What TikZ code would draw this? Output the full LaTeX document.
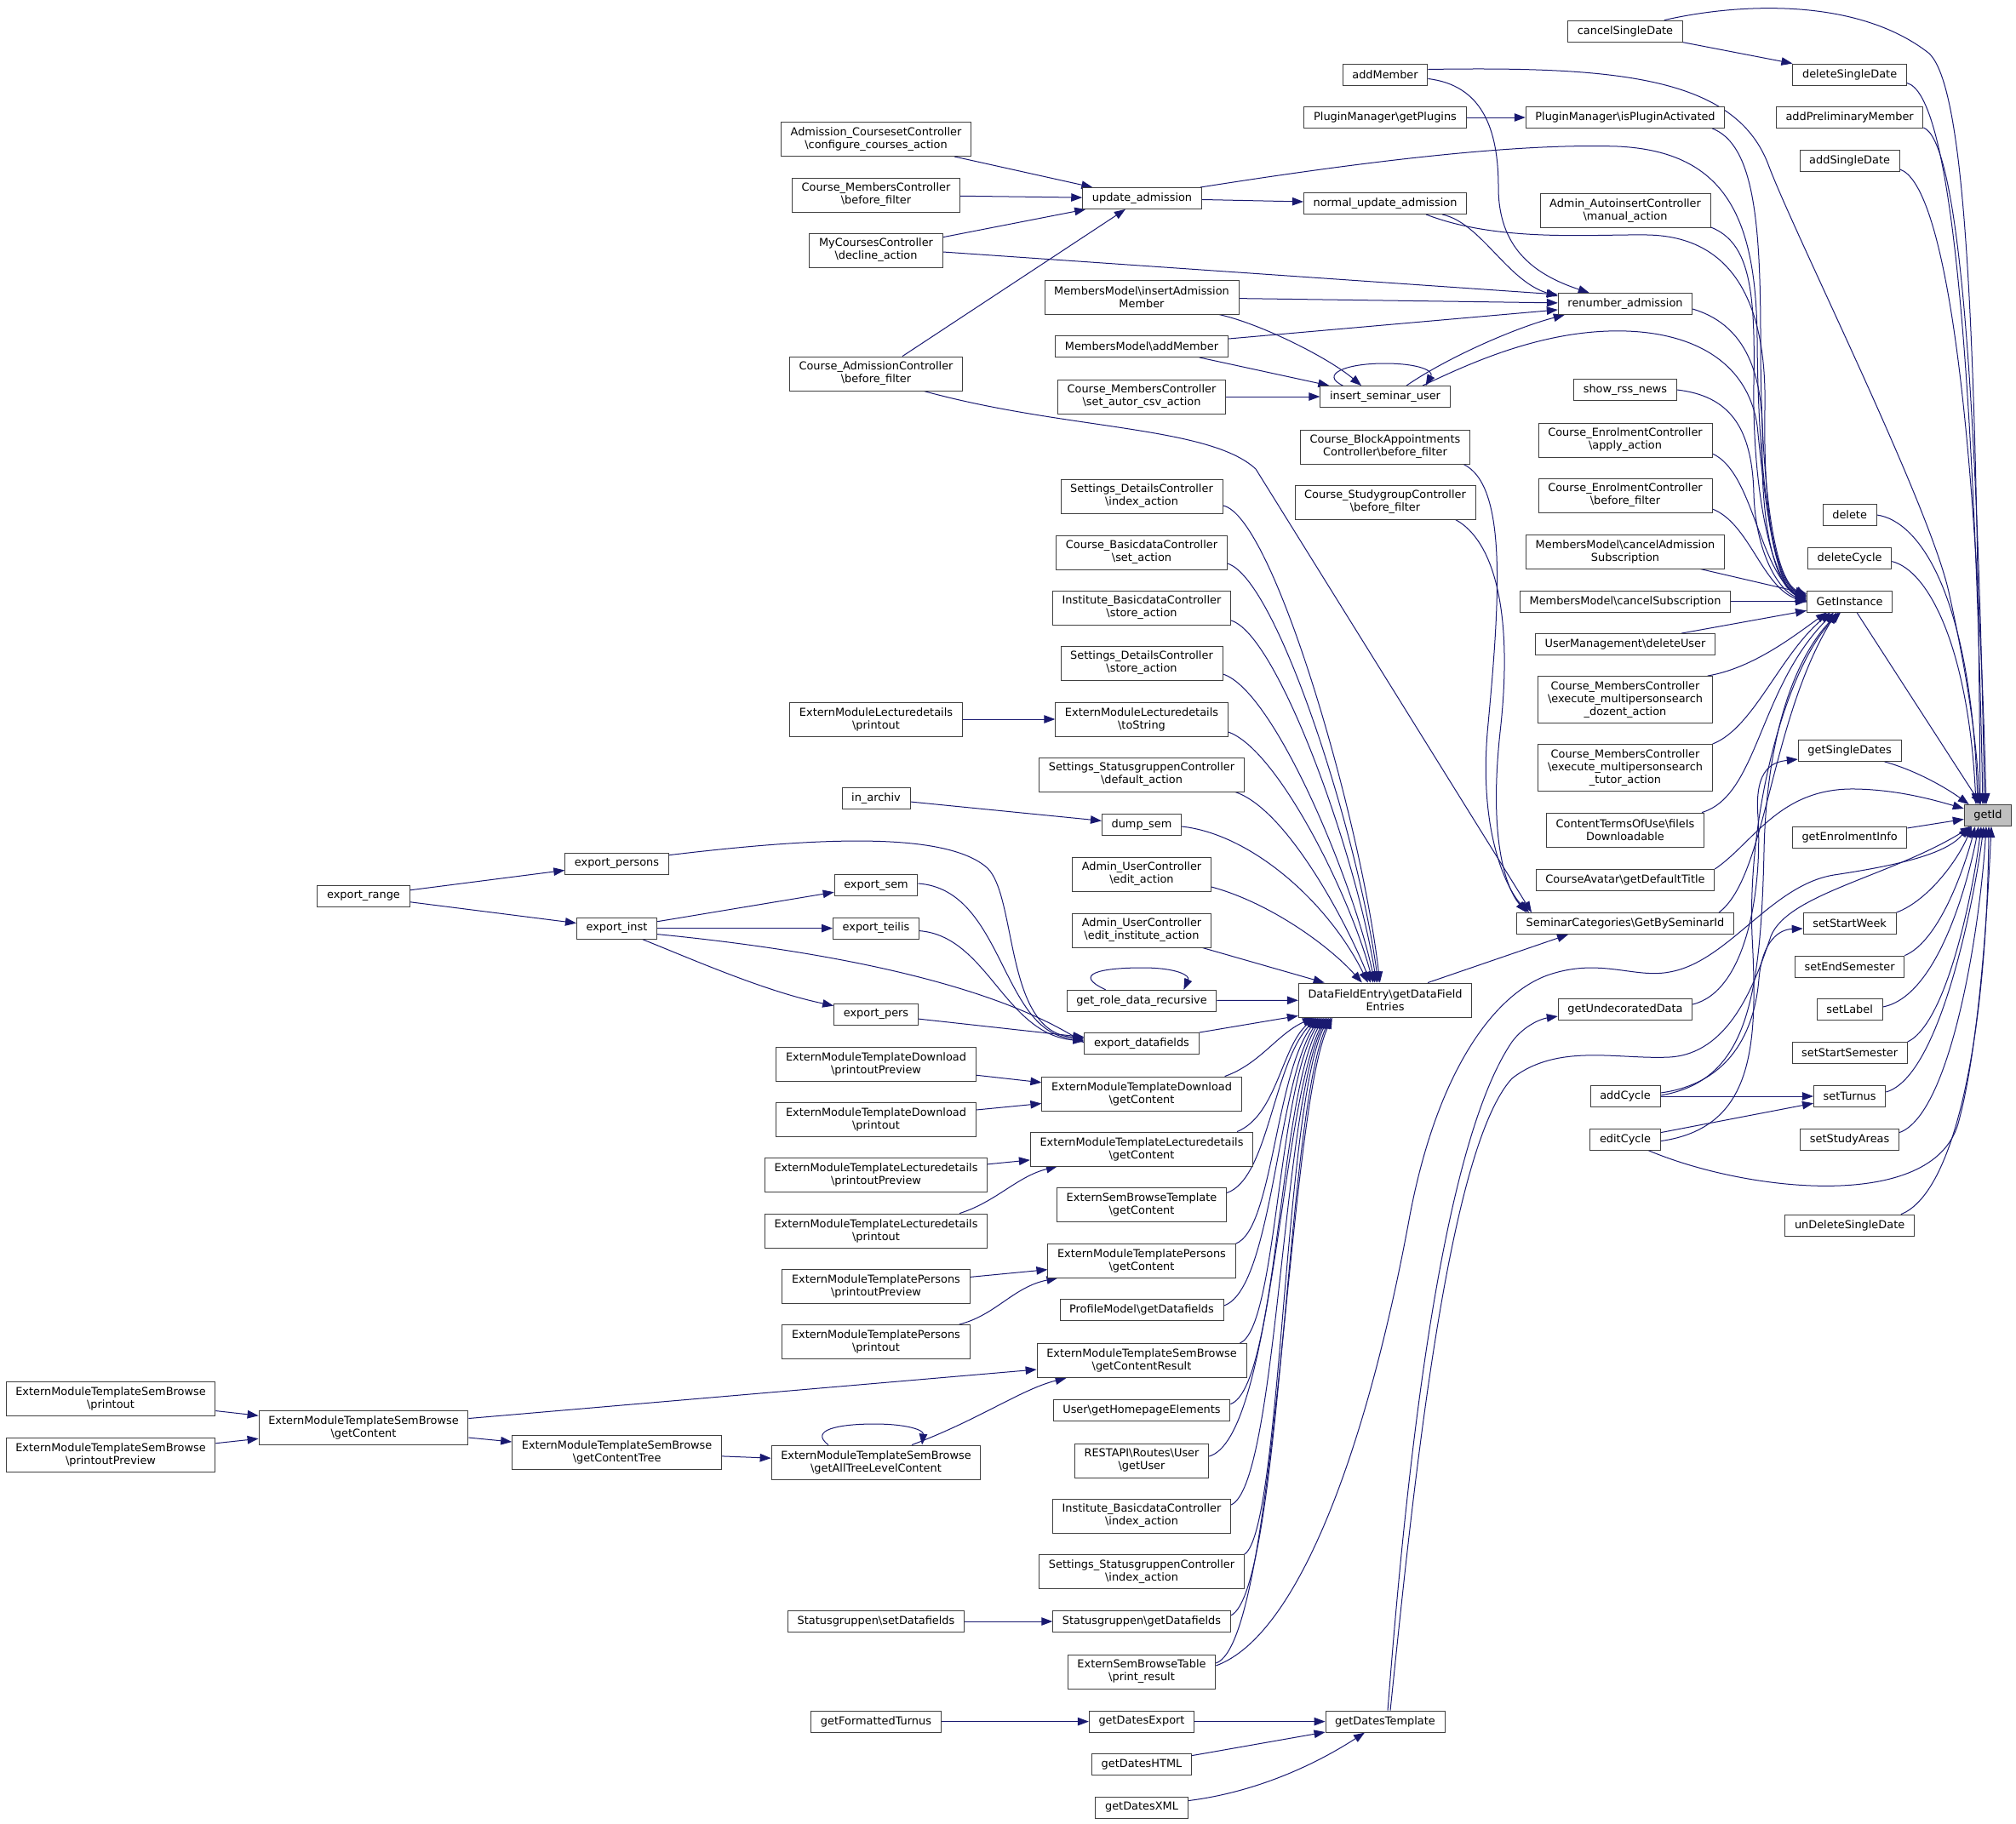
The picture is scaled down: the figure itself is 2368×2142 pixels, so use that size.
\documentclass[tikz,border=0pt]{standalone}
\usepackage{fontspec}
\newfontfamily\dejavu{DejaVu Sans}
\usetikzlibrary{arrows.meta,calc,backgrounds}
\definecolor{edgeblue}{HTML}{191970}
\definecolor{boxgrey}{HTML}{404040}
\definecolor{hitgrey}{HTML}{BFBFBF}
\newcommand{\bks}{\textbackslash}
\tikzset{
  fn/.style={draw=boxgrey, fill=white, rectangle, line width=0.9pt, font=\dejavu\fontsize{12.9}{15}\selectfont,
    inner xsep=11.2pt, inner ysep=0pt, minimum height=25pt, align=center},
  fntwo/.style={fn, minimum height=40pt},
  fnthree/.style={fn, minimum height=55pt},
  call/.style={draw=edgeblue, line width=1pt, -{Triangle[length=13pt,width=9.5pt]}},
}
\begin{document}
\begin{tikzpicture}[x=1pt,y=-1pt]
        \useasboundingbox (0,0) rectangle (2368,2142);

        \node[fn, fill=hitgrey] (getid) at (2335,958) {getId};

        \node[fn] (delsd) at (2172.6,87.5) {deleteSingleDate};
        \node[fn] (addpre) at (2172.6,138) {addPreliminaryMember};
        \node[fn] (addsd) at (2172.6,189) {addSingleDate};
        \node[fn] (del) at (2172.6,605) {delete};
        \node[fn] (delcyc) at (2172.6,655.6) {deleteCycle};
        \node[fn] (getinst) at (2172.6,706.5) {GetInstance};
        \node[fn] (getsd) at (2172.6,882) {getSingleDates};
        \node[fn] (getenr) at (2172.6,983.6) {getEnrolmentInfo};
        \node[fn] (setsw) at (2172.6,1085) {setStartWeek};
        \node[fn] (setes) at (2172.6,1135.6) {setEndSemester};
        \node[fn] (setlab) at (2172.6,1186) {setLabel};
        \node[fn] (setss) at (2172.6,1237) {setStartSemester};
        \node[fn] (setturn) at (2172.6,1288) {setTurnus};
        \node[fn] (setsa) at (2172.6,1338.6) {setStudyAreas};
        \node[fn] (undel) at (2172.6,1439.6) {unDeleteSingleDate};

        \node[fn] (cancelsd) at (1909,36.6) {cancelSingleDate};
        \node[fn] (isplug) at (1909,138) {PluginManager\bks isPluginActivated};
        \node[fntwo] (autoins) at (1909,247.5) {Admin\_AutoinsertController\\\bks manual\_action};
        \node[fn] (renum) at (1909,357) {renumber\_admission};
        \node[fn] (rss) at (1909,458) {show\_rss\_news};
        \node[fntwo] (enrapply) at (1909,517) {Course\_EnrolmentController\\\bks apply\_action};
        \node[fntwo] (enrfilter) at (1909,582) {Course\_EnrolmentController\\\bks before\_filter};
        \node[fntwo] (canceladm) at (1909,648) {MembersModel\bks cancelAdmission\\Subscription};
        \node[fn] (cancelsub) at (1909,706.5) {MembersModel\bks cancelSubscription};
        \node[fn] (deluser) at (1909,757) {UserManagement\bks deleteUser};
        \node[fnthree] (dozent) at (1909,822) {Course\_MembersController\\\bks execute\_multipersonsearch\\\_dozent\_action};
        \node[fnthree] (tutor) at (1909,902) {Course\_MembersController\\\bks execute\_multipersonsearch\\\_tutor\_action};
        \node[fntwo] (fileis) at (1909,975) {ContentTermsOfUse\bks fileIs\\Downloadable};
        \node[fn] (avatar) at (1909,1034) {CourseAvatar\bks getDefaultTitle};
        \node[fn] (semcat) at (1909,1085) {SeminarCategories\bks GetBySeminarId};
        \node[fn] (undec) at (1909,1186) {getUndecoratedData};
        \node[fn] (addcyc) at (1909,1288) {addCycle};
        \node[fn] (editcyc) at (1909,1338.6) {editCycle};

        \node[fn] (addmem) at (1627,87.5) {addMember};
        \node[fn] (getplug) at (1627,138) {PluginManager\bks getPlugins};
        \node[fn] (normupd) at (1627,239) {normal\_update\_admission};
        \node[fn] (insseminar) at (1627,466) {insert\_seminar\_user};
        \node[fntwo] (blockapp) at (1627,525) {Course\_BlockAppointments\\Controller\bks before\_filter};
        \node[fntwo] (studygrp) at (1627,590) {Course\_StudygroupController\\\bks before\_filter};
        \node[fntwo] (dfe) at (1627,1175) {DataFieldEntry\bks getDataField\\Entries};
        \node[fn] (datestpl) at (1627,2022.6) {getDatesTemplate};

        \node[fn] (updadm) at (1341.5,233) {update\_admission};
        \node[fntwo] (insadm) at (1341,349) {MembersModel\bks insertAdmission\\Member};
        \node[fn] (mmaddmem) at (1341,407) {MembersModel\bks addMember};
        \node[fntwo] (autorcsv) at (1341,466) {Course\_MembersController\\\bks set\_autor\_csv\_action};
        \node[fntwo] (sdindex) at (1341,583) {Settings\_DetailsController\\\bks index\_action};
        \node[fntwo] (cbset) at (1341,649) {Course\_BasicdataController\\\bks set\_action};
        \node[fntwo] (ibstore) at (1341,714) {Institute\_BasicdataController\\\bks store\_action};
        \node[fntwo] (sdstore) at (1341,779) {Settings\_DetailsController\\\bks store\_action};
        \node[fntwo] (tostring) at (1341,845) {ExternModuleLecturedetails\\\bks toString};
        \node[fntwo] (ssdefault) at (1341,910) {Settings\_StatusgruppenController\\\bks default\_action};
        \node[fn] (dumpsem) at (1341,969) {dump\_sem};
        \node[fntwo] (ucedit) at (1341,1027) {Admin\_UserController\\\bks edit\_action};
        \node[fntwo] (ucinst) at (1341,1093) {Admin\_UserController\\\bks edit\_institute\_action};
        \node[fn] (getrole) at (1341,1175.7) {get\_role\_data\_recursive};
        \node[fn] (expdf) at (1341,1226) {export\_datafields};
        \node[fntwo] (dlget) at (1341,1285) {ExternModuleTemplateDownload\\\bks getContent};
        \node[fntwo] (lecget) at (1341,1350) {ExternModuleTemplateLecturedetails\\\bks getContent};
        \node[fntwo] (sbtget) at (1341,1415.5) {ExternSemBrowseTemplate\\\bks getContent};
        \node[fntwo] (persget) at (1341,1481) {ExternModuleTemplatePersons\\\bks getContent};
        \node[fn] (profile) at (1341,1539) {ProfileModel\bks getDatafields};
        \node[fntwo] (sbresult) at (1341,1598.5) {ExternModuleTemplateSemBrowse\\\bks getContentResult};
        \node[fn] (homepage) at (1341,1656.6) {User\bks getHomepageElements};
        \node[fntwo] (restuser) at (1341,1716) {RESTAPI\bks Routes\bks User\\\bks getUser};
        \node[fntwo] (ibindex) at (1341,1781) {Institute\_BasicdataController\\\bks index\_action};
        \node[fntwo] (ssindex) at (1341,1846.5) {Settings\_StatusgruppenController\\\bks index\_action};
        \node[fn] (sgget) at (1341,1905) {Statusgruppen\bks getDatafields};
        \node[fntwo] (printres) at (1341,1964) {ExternSemBrowseTable\\\bks print\_result};
        \node[fn] (datesexp) at (1341,2022.6) {getDatesExport};
        \node[fn] (dateshtml) at (1341,2073) {getDatesHTML};
        \node[fn] (datesxml) at (1341,2123.6) {getDatesXML};

        \node[fntwo] (cfgcourses) at (1029,163.5) {Admission\_CoursesetController\\\bks configure\_courses\_action};
        \node[fntwo] (cmfilter) at (1029,229) {Course\_MembersController\\\bks before\_filter};
        \node[fntwo] (mycourses) at (1029,294) {MyCoursesController\\\bks decline\_action};
        \node[fntwo] (admfilter) at (1029,439) {Course\_AdmissionController\\\bks before\_filter};
        \node[fntwo] (lecprint) at (1029,845) {ExternModuleLecturedetails\\\bks printout};
        \node[fn] (inarchiv) at (1029,938) {in\_archiv};
        \node[fn] (expsem) at (1029,1040) {export\_sem};
        \node[fn] (expteilis) at (1029,1090.6) {export\_teilis};
        \node[fn] (exppers) at (1029,1191.6) {export\_pers};
        \node[fntwo] (dlpreview) at (1029,1250) {ExternModuleTemplateDownload\\\bks printoutPreview};
        \node[fntwo] (dlprint) at (1029,1315.5) {ExternModuleTemplateDownload\\\bks printout};
        \node[fntwo] (lecpreview) at (1029,1380.7) {ExternModuleTemplateLecturedetails\\\bks printoutPreview};
        \node[fntwo] (lecprintout) at (1029,1446) {ExternModuleTemplateLecturedetails\\\bks printout};
        \node[fntwo] (perspreview) at (1029,1511) {ExternModuleTemplatePersons\\\bks printoutPreview};
        \node[fntwo] (persprint) at (1029,1576.5) {ExternModuleTemplatePersons\\\bks printout};
        \node[fntwo] (alltree) at (1029,1718) {ExternModuleTemplateSemBrowse\\\bks getAllTreeLevelContent};
        \node[fn] (sgset) at (1029,1905) {Statusgruppen\bks setDatafields};
        \node[fn] (fmtturnus) at (1029,2022.6) {getFormattedTurnus};

        \node[fn] (exppersons) at (724.5,1014.6) {export\_persons};
        \node[fn] (expinst) at (724.5,1090.6) {export\_inst};
        \node[fntwo] (sbtree) at (724.6,1706) {ExternModuleTemplateSemBrowse\\\bks getContentTree};

        \node[fn] (exprange) at (427,1052.8) {export\_range};
        \node[fntwo] (sbget) at (427,1677) {ExternModuleTemplateSemBrowse\\\bks getContent};

        \node[fntwo] (sbprint) at (130,1643.7) {ExternModuleTemplateSemBrowse\\\bks printout};
        \node[fntwo] (sbpreview) at (130,1709) {ExternModuleTemplateSemBrowse\\\bks printoutPreview};

        \begin{scope}[on background layer]
        % into getId
        \draw[call] ($(cancelsd.north east)+(-22,0)$) .. controls (2040,4) and (2180,-4) .. (2265,62) .. controls (2310,100) and (2322,400) .. ($(getid.north)+(-9,0)$);
        \draw[call] ($(delsd.east)+(0,10)$) .. controls (2290,110) and (2318,400) .. ($(getid.north)+(-6,0)$);
        \draw[call] ($(addpre.south east)+(0,-1)$) .. controls (2298,165) and (2322,420) .. ($(getid.north)+(-4,0)$);
        \draw[call] ($(addsd.east)+(0,10)$) .. controls (2280,215) and (2320,450) .. ($(getid.north)+(-2,0)$);
        \draw[call] ($(addmem.east)+(0,-6)$) .. controls (1900,78) and (2040,90) .. (2078,196) .. controls (2110,280) and (2270,600) .. (2290,700) .. controls (2310,790) and (2322,870) .. ($(getid.north)+(-10,0)$);
        \draw[call] (del.east) .. controls (2255,612) and (2315,700) .. ($(getid.north)+(-12,0)$);
        \draw[call] ($(delcyc.east)+(0,4)$) .. controls (2265,670) and (2312,760) .. ($(getid.north)+(-14,0)$);
        \draw[call] (getinst) -- (getid);
        \draw[call] ($(getsd.south)+(41,0)$) .. controls (2250,905) and (2285,925) .. ($(getid.north west)+(6,0)$);
        \draw[call] (avatar.north east) .. controls (2060,990) and (2090,925) .. (2180,927) .. controls (2230,928) and (2272,940) .. ($(getid.west)+(0,-8)$);
        \draw[call] (getenr) -- (getid);
        \draw[call] (setsw.north east) .. controls (2265,1058) and (2300,1010) .. ($(getid.south)+(-19,0)$);
        \draw[call] (setes.north east) .. controls (2280,1105) and (2310,1010) .. ($(getid.south)+(-15,0)$);
        \draw[call] ($(setlab.east)+(0,-3)$) .. controls (2280,1170) and (2315,1020) .. ($(getid.south)+(-11,0)$);
        \draw[call] (setss.north east) .. controls (2290,1200) and (2320,1030) .. ($(getid.south)+(-8,0)$);
        \draw[call] ($(setturn.east)+(0,-5)$) .. controls (2280,1265) and (2320,1050) .. ($(getid.south)+(-5,0)$);
        \draw[call] ($(setsa.east)+(0,-8)$) .. controls (2290,1310) and (2325,1100) .. ($(getid.south)+(-2,0)$);
        \draw[call] ($(undel.north east)+(-16,0)$) .. controls (2300,1400) and (2334,1200) .. ($(getid.south)+(1,0)$);
        \draw[call] ($(editcyc.south)+(27,0)$) .. controls (2050,1400) and (2270,1425) .. (2300,1320) .. controls (2325,1230) and (2335,1060) .. ($(getid.south)+(4,0)$);
        \draw[call] ($(printres.east)+(0,-7)$) .. controls (1530,1920) and (1610,1680) .. (1656,1428) .. controls (1690,1250) and (1760,1165) .. (1820,1145) .. controls (1880,1125) and (1920,1150) .. (1961,1142) .. controls (2030,1130) and (2080,1040) .. (2154,1028) .. controls (2220,1018) and (2285,1005) .. ($(getid.south west)+(6,0)$);
        \draw[call] ($(datestpl.north)+(6,0)$) .. controls (1660,1750) and (1700,1350) .. (1776,1267) .. controls (1830,1225) and (1900,1245) .. (1961,1242) .. controls (2030,1238) and (2060,1160) .. (2080,1100) .. controls (2100,1050) and (2220,1030) .. ($(getid.south west)+(9,0)$);

        % into GetInstance
        \draw[call] ($(isplug.south east)+(-15,0)$) .. controls (2060,170) and (2068,260) .. (2068,400) .. controls (2068,560) and (2082,680) .. ($(getinst.west)+(0,-7)$);
        \draw[call] ($(updadm.north east)+(-2,0)$) .. controls (1600,190) and (1780,168) .. (1900,172) .. controls (2030,178) and (2063,260) .. (2064,400) .. controls (2065,560) and (2082,682) .. ($(getinst.west)+(0,-6)$);
        \draw[call] ($(normupd.south)+(48,0)$) .. controls (1760,285) and (1870,275) .. (1935,276) .. controls (2050,278) and (2075,380) .. (2073,480) .. controls (2071,600) and (2085,685) .. ($(getinst.west)+(0,-5)$);
        \draw[call] ($(autoins.south east)+(0,-1)$) .. controls (2055,285) and (2062,340) .. (2060,450) .. controls (2058,580) and (2082,686) .. ($(getinst.west)+(0,-4)$);
        \draw[call] ($(renum.east)+(0,6)$) .. controls (2045,380) and (2072,430) .. (2070,520) .. controls (2068,620) and (2086,690) .. ($(getinst.west)+(0,-3)$);
        \draw[call] ($(insseminar.north)+(44,0)$) .. controls (1720,430) and (1800,392) .. (1889,389) .. controls (1980,386) and (2052,420) .. (2064,500) .. controls (2074,600) and (2086,690) .. ($(getinst.west)+(0,-2)$);
        \draw[call] (rss.east) .. controls (2030,465) and (2058,500) .. (2060,580) .. controls (2062,650) and (2090,695) .. ($(getinst.west)+(0,-1)$);
        \draw[call] ($(enrapply.east)+(0,16)$) .. controls (2060,555) and (2065,670) .. (getinst.west);
        \draw[call] ($(enrfilter.east)+(0,16)$) .. controls (2055,615) and (2070,690) .. ($(getinst.west)+(0,1)$);
        \draw[call] ($(canceladm.south east)+(-29,0)$) -- ($(getinst.west)+(0,-9)$);
        \draw[call] (cancelsub) -- (getinst);
        \draw[call] ($(deluser.north east)+(-40,0)$) -- ($(getinst.south west)+(0,-2)$);
        \draw[call] ($(dozent.north east)+(-6,0)$) .. controls (2060,785) and (2110,745) .. ($(getinst.south west)+(24,0)$);
        \draw[call] (tutor.north east) .. controls (2060,855) and (2090,770) .. ($(getinst.south west)+(28,0)$);
        \draw[call] ($(fileis.north east)+(-3,0)$) .. controls (2065,935) and (2065,810) .. ($(getinst.south west)+(32,0)$);
        \draw[call] ($(semcat.north east)+(-18,0)$) .. controls (2075,1030) and (2078,850) .. ($(getinst.south west)+(35,0)$);
        \draw[call] ($(addcyc.east)+(0,-1)$) .. controls (2050,1270) and (2068,1180) .. (2072,1000) .. controls (2075,860) and (2110,770) .. ($(getinst.south west)+(38,0)$);
        \draw[call] ($(editcyc.east)+(0,2)$) .. controls (2060,1325) and (2065,1230) .. (2058,1100) .. controls (2052,950) and (2100,780) .. ($(getinst.south west)+(40,0)$);

        % renumber_admission, insert_seminar_user
        \draw[call] ($(mycourses.east)+(0,2)$) -- ($(renum.west)+(0,-11)$);
        \draw[call] (insadm) -- (renum);
        \draw[call] (mmaddmem) -- (renum);
        \draw[call] ($(addmem.east)+(0,5)$) .. controls (1740,100) and (1760,150) .. (1760,220) .. controls (1760,290) and (1800,322) .. ($(renum.north west)+(37,0)$);
        \draw[call] ($(normupd.south)+(67,0)$) .. controls (1740,262) and (1770,330) .. ($(renum.west)+(0,-9)$);
        \draw[call] ($(insseminar.north)+(25,0)$) .. controls (1700,420) and (1780,385) .. ($(renum.south west)+(8,0)$);
        \draw[call] ($(insadm.south east)+(-24,0)$) .. controls (1480,380) and (1560,420) .. ($(insseminar.north)+(-28,0)$);
        \draw[call] ($(mmaddmem.south east)+(-34,0)$) -- ($(insseminar.north west)+(11,0)$);
        \draw[call] (autorcsv) -- (insseminar);
        \draw[call] ($(insseminar.north west)+(27,0)$) .. controls (1550,440) and (1580,427) .. (1626,427) .. controls (1668,427) and (1684,436) .. ($(insseminar.north east)+(-29,0)$);

        \draw[call] (cfgcourses) -- (updadm);
        \draw[call] (cmfilter) -- (updadm);
        \draw[call] (mycourses) -- (updadm);
        \draw[call] (admfilter) -- (updadm);
        \draw[call] (updadm) -- (normupd);
        \draw[call] (getplug) -- (isplug);
        \draw[call] (cancelsd) -- (delsd);

        % SeminarCategories
        \draw[call] ($(admfilter.south east)+(-46,0)$) .. controls (1250,505) and (1420,500) .. (1475,551) -- ($(semcat.north west)+(18,0)$);
        \draw[call] ($(blockapp.south east)+(-8,0)$) .. controls (1770,570) and (1762,700) .. (1748,850) .. controls (1735,980) and (1772,1048) .. ($(semcat.north west)+(15,0)$);
        \draw[call] ($(studygrp.south east)+(-24,0)$) .. controls (1755,635) and (1778,720) .. (1762,860) .. controls (1748,990) and (1770,1045) .. ($(semcat.north west)+(12,0)$);
        \draw[call] ($(dfe.north)+(50,0)$) -- ($(semcat.south)+(-67,0)$);

        % getUndecoratedData, getSingleDates, setStartWeek, setTurnus
        \draw[call] ($(datestpl.north)+(3,0)$) .. controls (1650,1750) and (1690,1350) .. (1776,1224) .. controls (1790,1205) and (1810,1197) .. ($(undec.west)+(0,8)$);
        \draw[call] ($(undec.east)+(0,-6)$) .. controls (2050,1165) and (2070,1050) .. (2065,960) .. controls (2060,900) and (2085,895) .. ($(getsd.west)+(0,10)$);
        \draw[call] ($(addcyc.east)+(0,-4)$) .. controls (2040,1272) and (2062,1200) .. (2066,1150) .. controls (2070,1105) and (2090,1092) .. ($(setsw.west)+(0,6)$);
        \draw[call] (addcyc) -- (setturn);
        \draw[call] (editcyc) -- (setturn);

        % DataFieldEntry
        \draw[call] ($(sdindex.east)+(0,11)$) .. controls (1495,605) and (1598,960) .. ($(dfe.north west)+(96,0)$);
        \draw[call] ($(cbset.east)+(0,13)$) .. controls (1500,680) and (1595,980) .. ($(dfe.north west)+(94,0)$);
        \draw[call] ($(ibstore.east)+(0,15)$) .. controls (1500,745) and (1592,1000) .. ($(dfe.north west)+(92,0)$);
        \draw[call] ($(sdstore.east)+(0,13)$) .. controls (1495,810) and (1588,1030) .. ($(dfe.north west)+(90,0)$);
        \draw[call] ($(tostring.east)+(0,15)$) .. controls (1500,880) and (1585,1050) .. ($(dfe.north west)+(88,0)$);
        \draw[call] ($(ssdefault.south east)+(-11,0)$) .. controls (1510,950) and (1580,1080) .. ($(dfe.north west)+(85,0)$);
        \draw[call] ($(dumpsem.east)+(0,2)$) .. controls (1470,980) and (1560,1060) .. ($(dfe.north west)+(82,0)$);
        \draw[call] ($(ucedit.east)+(0,15)$) .. controls (1490,1060) and (1560,1110) .. ($(dfe.north west)+(75,0)$);
        \draw[call] (ucinst) -- (dfe);
        \draw[call] (getrole) -- (dfe);
        \draw[call] ($(getrole.north west)+(46,0)$) .. controls (1260,1145) and (1290,1137) .. (1342,1137) .. controls (1382,1137) and (1398,1146) .. ($(getrole.north east)+(-39,0)$);
        \draw[call] (expdf.north east) -- ($(dfe.south west)+(0,-2)$);
        \draw[call] ($(dlget.north east)+(-20,0)$) .. controls (1480,1250) and (1500,1215) .. ($(dfe.south west)+(18,0)$);
        \draw[call] ($(lecget.north east)+(-19,0)$) .. controls (1500,1310) and (1505,1230) .. ($(dfe.south west)+(20,0)$);
        \draw[call] ($(sbtget.east)+(0,-14)$) .. controls (1490,1385) and (1495,1250) .. ($(dfe.south west)+(22,0)$);
        \draw[call] ($(persget.east)+(0,-20)$) .. controls (1495,1445) and (1498,1260) .. ($(dfe.south west)+(24,0)$);
        \draw[call] ($(profile.east)+(0,-5)$) .. controls (1495,1515) and (1500,1270) .. ($(dfe.south west)+(26,0)$);
        \draw[call] ($(sbresult.north east)+(-8,0)$) .. controls (1500,1560) and (1500,1280) .. ($(dfe.south west)+(28,0)$);
        \draw[call] ($(homepage.east)+(0,-7)$) .. controls (1500,1630) and (1502,1290) .. ($(dfe.south west)+(30,0)$);
        \draw[call] ($(restuser.east)+(0,-5)$) .. controls (1495,1690) and (1504,1300) .. ($(dfe.south west)+(32,0)$);
        \draw[call] ($(ibindex.east)+(0,-13)$) .. controls (1500,1745) and (1506,1300) .. ($(dfe.south west)+(34,0)$);
        \draw[call] (ssindex.north east) .. controls (1505,1800) and (1508,1300) .. ($(dfe.south west)+(36,0)$);
        \draw[call] ($(sgget.east)+(0,-7)$) .. controls (1505,1870) and (1510,1310) .. ($(dfe.south west)+(38,0)$);
        \draw[call] ($(printres.east)+(0,-10)$) .. controls (1500,1930) and (1512,1310) .. ($(dfe.south west)+(40,0)$);

        % left part
        \draw[call] (lecprint) -- (tostring);
        \draw[call] (inarchiv) -- (dumpsem);
        \draw[call] ($(expsem.east)+(0,-2)$) .. controls (1180,1045) and (1175,1215) .. ($(expdf.west)+(0,-5)$);
        \draw[call] ($(expteilis.east)+(0,3)$) .. controls (1160,1100) and (1180,1215) .. ($(expdf.west)+(0,-3)$);
        \draw[call] (exppers) -- (expdf);
        \draw[call] ($(exppersons.north east)+(0,3)$) .. controls (950,985) and (1110,975) .. (1160,1020) .. controls (1195,1055) and (1180,1215) .. ($(expdf.west)+(0,-7)$);
        \draw[call] ($(expinst.east)+(0,7)$) .. controls (950,1115) and (1150,1150) .. ($(expdf.west)+(0,-1)$);
        \draw[call] (expinst) -- (expsem);
        \draw[call] (expinst) -- (expteilis);
        \draw[call] ($(expinst.south)+(30,0)$) .. controls (820,1130) and (900,1165) .. ($(exppers.west)+(0,-10)$);
        \draw[call] (exprange) -- (exppersons);
        \draw[call] (exprange) -- (expinst);

        \draw[call] (dlpreview) -- (dlget);
        \draw[call] (dlprint) -- (dlget);
        \draw[call] (lecpreview) -- (lecget);
        \draw[call] ($(lecprintout.north east)+(-33,0)$) .. controls (1170,1412) and (1195,1382) .. ($(lecget.south west)+(32,0)$);
        \draw[call] (perspreview) -- (persget);
        \draw[call] ($(persprint.north east)+(-13,0)$) .. controls (1170,1545) and (1190,1512) .. ($(persget.south west)+(12,0)$);

        \draw[call] (sbprint) -- (sbget);
        \draw[call] (sbpreview) -- (sbget);
        \draw[call] (sbget) -- (sbresult);
        \draw[call] (sbget) -- (sbtree);
        \draw[call] (sbtree) -- (alltree);
        \draw[call] ($(alltree.north)+(42,0)$) .. controls (1150,1668) and (1200,1632) .. ($(sbresult.south west)+(35,0)$);
        \draw[call] ($(alltree.north)+(-56,0)$) .. controls (950,1680) and (985,1673) .. (1027,1673) .. controls (1065,1673) and (1085,1680) .. ($(alltree.north)+(54,0)$);

        \draw[call] (sgset) -- (sgget);
        \draw[call] (fmtturnus) -- (datesexp);
        \draw[call] (datesexp) -- (datestpl);
        \draw[call] (dateshtml) -- (datestpl);
        \draw[call] ($(datesxml.east)+(0,-8)$) .. controls (1480,2105) and (1550,2070) .. ($(datestpl.south)+(-24,0)$);
        \end{scope}
\end{tikzpicture}
\end{document}
